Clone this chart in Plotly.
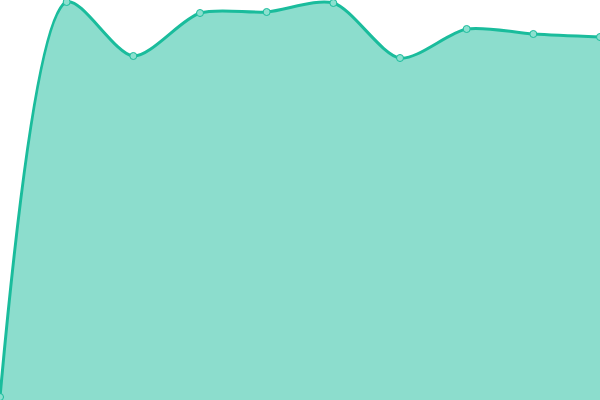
import plotly.graph_objects as go

# data (arbitrary units, 0..400)
x_vals = [0, 1, 2, 3, 4, 5, 6, 7, 8, 9]
y_vals = [3, 398, 344, 387, 388, 397, 342, 371, 366, 363]

line_color = "#1abc9c"
fill_color = "rgba(26,188,156,0.5)"

fig = go.Figure()
fig.add_trace(go.Scatter(
    x=x_vals, y=y_vals,
    mode="lines+markers",
    line=dict(color=line_color, width=3, shape="spline", smoothing=0.8),
    fill="tozeroy", fillcolor=fill_color,
    marker=dict(size=7, color="#8ce0cf", line=dict(color=line_color, width=1)),
    cliponaxis=False,
    hoverinfo="skip",
))

fig.update_xaxes(visible=False, range=[0, 9])
fig.update_yaxes(visible=False, range=[0, 400])
fig.update_layout(
    width=600, height=400,
    margin=dict(l=0, r=0, t=0, b=0),
    paper_bgcolor="white", plot_bgcolor="white",
    showlegend=False,
)

# drop the page's default 8px body margin so the plot fills the window
fig.write_html("out.html", config={"displayModeBar": False},
               post_script="document.body.style.margin='0';")
